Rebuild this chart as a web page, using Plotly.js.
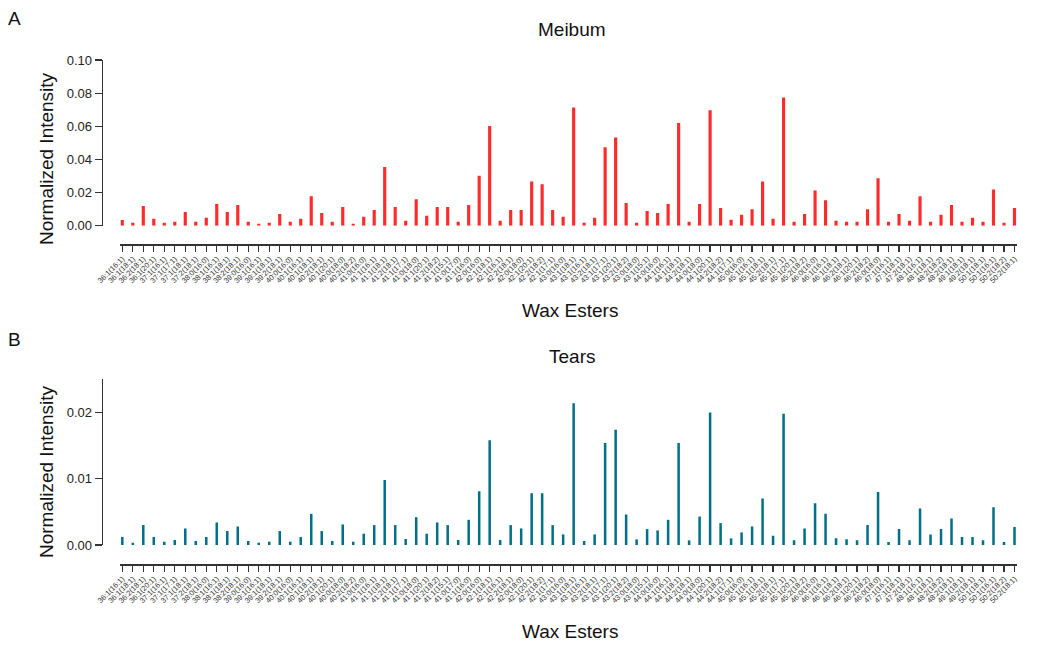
<!DOCTYPE html>
<html>
<head>
<meta charset="utf-8">
<script src="https://cdn.plot.ly/plotly-3.0.1.min.js"></script>
<style>html,body{margin:0;padding:0;background:#fff;}</style>
</head>
<body>
<div id="chart" style="width:1050px;height:645px;"></div>
<script>
const waxEsters = [
"36:1(16:1)","36:1(18:1)","36:2(18:1)","36:1(20:1)","37:1(16:1)","37:1(17:1)","37:1(18:1)","37:2(18:1)",
"38:0(16:0)","38:1(16:1)","38:1(18:1)","38:2(18:1)","39:0(16:0)","39:1(16:1)","39:1(18:1)","39:2(18:1)",
"40:0(16:0)","40:1(16:1)","40:1(18:1)","40:2(18:1)","40:1(20:1)","40:0(18:0)","40:2(18:2)","41:0(16:0)",
"41:1(16:1)","41:1(18:1)","41:2(18:1)","41:1(17:1)","41:0(18:0)","41:1(20:1)","41:2(18:2)","41:1(15:1)",
"41:0(17:0)","41:1(16:0)","42:0(16:0)","42:1(18:1)","42:1(16:1)","42:2(18:1)","42:0(18:0)","42:1(20:1)",
"42:2(18:2)","42:1(17:1)","43:0(16:0)","43:1(18:1)","43:1(16:1)","43:2(18:1)","43:1(17:1)","43:1(20:1)",
"43:2(18:2)","43:0(18:0)","43:1(15:1)","44:0(16:0)","44:1(16:1)","44:1(18:1)","44:2(18:1)","44:0(18:0)",
"44:1(20:1)","44:2(18:2)","44:1(17:1)","45:0(16:0)","45:1(16:1)","45:1(18:1)","45:2(18:1)","45:1(17:1)",
"45:1(20:1)","45:2(18:2)","46:0(16:0)","46:1(16:1)","46:1(18:1)","46:2(18:1)","46:1(20:1)","46:2(18:2)",
"46:0(18:0)","47:1(16:1)","47:1(18:1)","47:2(18:1)","48:1(16:1)","48:1(18:1)","48:2(18:2)","48:2(18:1)",
"49:1(18:1)","49:2(18:1)","50:1(18:1)","50:1(16:1)","50:2(18:2)","50:2(18:1)"
];

const meibum = [
0.0035,0.0018,0.0119,0.0042,0.0018,0.0024,0.0082,0.0024,0.0048,0.0131,
0.0082,0.0125,0.0024,0.0012,0.0018,0.0070,0.0024,0.0042,0.0177,0.0076,
0.0024,0.0113,0.0012,0.0054,0.0095,0.0354,0.0113,0.0030,0.0159,0.0060,
0.0113,0.0113,0.0024,0.0125,0.0302,0.0602,0.0030,0.0095,0.0095,0.0266,
0.0250,0.0095,0.0054,0.0714,0.0018,0.0048,0.0473,0.0533,0.0137,0.0018,
0.0089,0.0076,0.0131,0.0620,0.0024,0.0131,0.0696,0.0107,0.0036,0.0066,
0.0100,0.0266,0.0042,0.0773,0.0024,0.0070,0.0213,0.0153,0.0030,0.0024,
0.0024,0.0100,0.0286,0.0024,0.0070,0.0030,0.0177,0.0024,0.0066,0.0125,
0.0024,0.0048,0.0024,0.0219,0.0018,0.0107
];

const tears = [
0.0012,0.00035,0.0030,0.0012,0.0005,0.00075,0.0025,0.0006,0.0012,0.0034,
0.0021,0.0028,0.0006,0.00035,0.0005,0.0021,0.0005,0.0012,0.0047,0.0021,
0.0006,0.0031,0.0005,0.0017,0.0030,0.0098,0.0030,0.0009,0.0042,0.0017,
0.0034,0.0030,0.00075,0.0038,0.0081,0.0158,0.00075,0.0030,0.0025,0.0078,
0.0078,0.0030,0.0016,0.0214,0.0006,0.0016,0.0154,0.0174,0.0046,0.00085,
0.0024,0.0022,0.0038,0.0154,0.0007,0.0043,0.0200,0.0033,0.0010,0.0019,
0.0028,0.0070,0.0014,0.0198,0.0007,0.0025,0.0063,0.0047,0.0010,0.00085,
0.0007,0.0030,0.0080,0.00045,0.0024,0.0007,0.0055,0.0016,0.0024,0.0040,
0.0012,0.0012,0.0007,0.0057,0.00045,0.0027
];

const panelTitles = ["Meibum", "Tears"];
const panelLetters = ["A", "B"];
const xTitle = "Wax Esters";
const yTitle = "Normalized Intensity";

const W = 1050, H = 645;
const fx = v => v / W;
const fy = v => 1 - v / H;
const FONT = "Liberation Sans, Arial, sans-serif";

const traces = [
  {type: "bar", x: waxEsters, y: meibum, xaxis: "x", yaxis: "y",
   marker: {color: "#ff2a2a", line: {width: 0}}, width: 0.3, hoverinfo: "x+y"},
  {type: "bar", x: waxEsters, y: tears, xaxis: "x2", yaxis: "y2",
   marker: {color: "#006f88", line: {width: 0}}, width: 0.24, hoverinfo: "x+y"}
];

const xdom = [fx(120.2), fx(1016.6)];
const xCommon = {
  type: "category", range: [-0.2, 85.2], domain: xdom, anchor: "free",
  showline: true, linecolor: "#333", linewidth: 1.5,
  ticks: "outside", ticklen: 6, tickwidth: 1.2, tickcolor: "#333",
  tickangle: -45, tickfont: {family: FONT, size: 7.5, color: "#333"},
  showgrid: false, zeroline: false, automargin: false, fixedrange: true
};
const yCommon = {
  anchor: "free", position: fx(101.7),
  showline: true, linecolor: "#333", linewidth: 1.5,
  ticks: "outside", ticklen: 7, tickwidth: 1.2, tickcolor: "#333",
  tickfont: {family: FONT, size: 13, color: "#222"},
  tickformat: ".2f", showgrid: false, zeroline: false, automargin: false, fixedrange: true
};

function label(text, x, y, angle) {
  return {text: text, x: fx(x), y: fy(y), xref: "paper", yref: "paper",
          xanchor: "center", yanchor: "middle", showarrow: false,
          textangle: angle || 0, font: {size: 19, family: FONT, color: "#111"}};
}

const layout = {
  width: W, height: H,
  margin: {l: 0, r: 0, t: 0, b: 0},
  paper_bgcolor: "#fff", plot_bgcolor: "#fff",
  showlegend: false,
  font: {family: FONT, color: "#111"},
  xaxis: Object.assign({}, xCommon, {position: fy(244)}),
  yaxis: Object.assign({}, yCommon, {domain: [fy(225.7), fy(60)], range: [0, 0.10], dtick: 0.02}),
  xaxis2: Object.assign({}, xCommon, {position: fy(564)}),
  yaxis2: Object.assign({}, yCommon, {domain: [fy(545), fy(379.3)], range: [0, 0.025], dtick: 0.01}),
  annotations: [
    label(panelTitles[0], 572, 29),
    label(panelTitles[1], 572, 356),
    label(panelLetters[0], 14, 18),
    label(panelLetters[1], 14, 339),
    label(xTitle, 570, 311),
    label(xTitle, 570, 631),
    label(yTitle, 46, 159, -90),
    label(yTitle, 46, 472, -90)
  ]
};

Plotly.newPlot("chart", traces, layout, {displayModeBar: false, staticPlot: true});
</script>
</body>
</html>
